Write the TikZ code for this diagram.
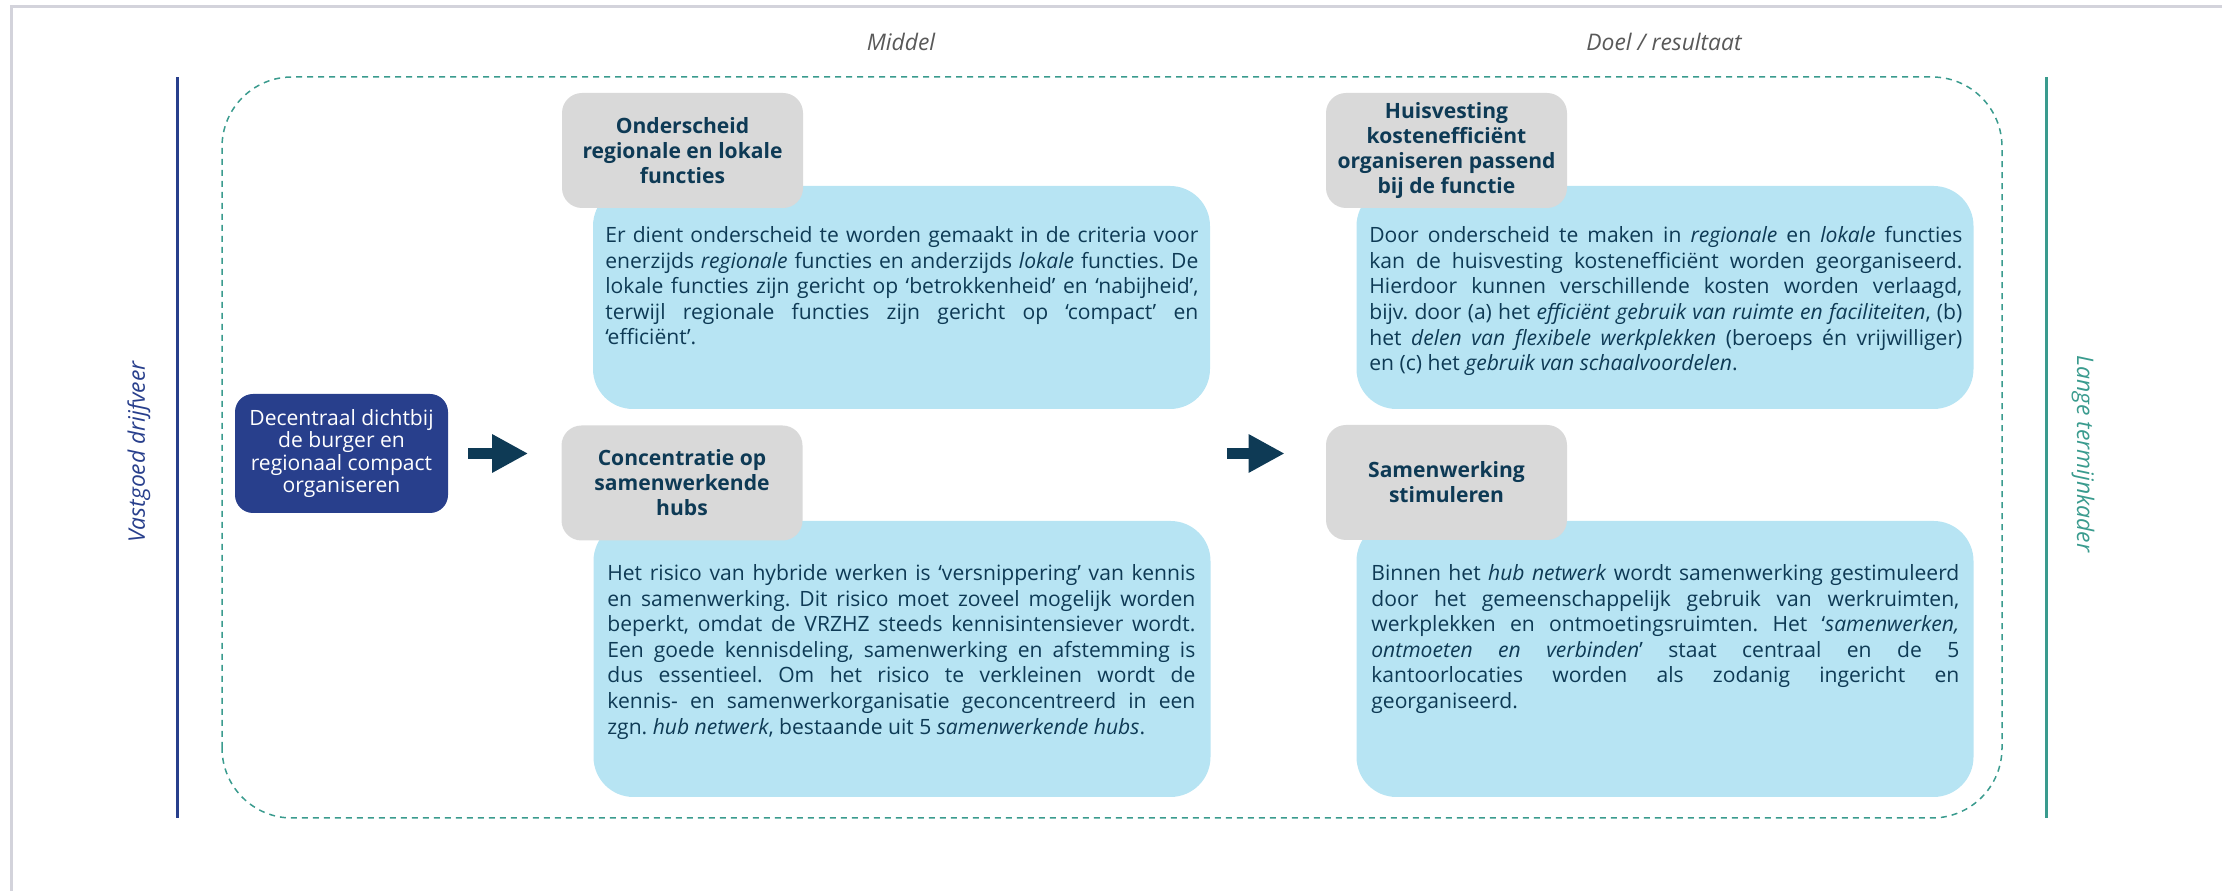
\documentclass[tikz,border=0pt]{standalone}
\usepackage{fontspec}
\setmainfont{Open Sans}
\usepackage{tikz}
\usetikzlibrary{arrows.meta, calc}
\definecolor{navy}{HTML}{0E3A55}
\definecolor{donkerblauw}{HTML}{283F8C}
\definecolor{groen}{HTML}{3A9B8E}
\definecolor{grijs}{HTML}{D9D9D9}
\definecolor{lichtblauw}{HTML}{B7E4F3}
\definecolor{randgrijs}{HTML}{D3D3DB}
\tikzset{
  kop/.style={rectangle, rounded corners=0.4cm, fill=grijs, text=navy, align=center,
    minimum width=4.82cm, minimum height=2.3cm, inner sep=0,
    font=\bfseries\fontsize{12}{14.2}\selectfont},
  tekstvak/.style={rectangle, rounded corners=0.8cm, fill=lichtblauw,
    minimum width=12.34cm, inner sep=0},
  uitleg/.style={anchor=north west, inner sep=0, text width=11.86cm, align=justify,
    text=navy, font=\fontsize{12}{14.6}\selectfont},
  startvak/.style={rectangle, rounded corners=0.36cm, fill=donkerblauw, text=white,
    align=center, minimum width=4.26cm, minimum height=2.38cm, inner sep=0,
    font=\fontsize{12}{12.7}\selectfont},
  kolom/.style={text=black!65, font=\itshape\fontsize{13}{15}\selectfont},
  pijl/.style={draw=navy, line width=0.22cm, -{Triangle[length=0.72cm, width=0.72cm]}}
}

\begin{document}
\frenchspacing
\begin{tikzpicture}
%\draw[help lines] (0,0) grid (44,17);
\useasboundingbox (0,0) rectangle (44.44,17.82);
\draw[randgrijs, line width=0.06cm] (0.22,0) -- (0.22,17.68) -- (44.44,17.68);

\draw[donkerblauw, line width=0.06cm] (3.54,1.46) -- (3.54,16.28);
\draw[groen, line width=0.06cm] (40.92,1.46) -- (40.92,16.28);
\draw[groen, line width=0.03cm, dash pattern=on 0.12cm off 0.1cm, rounded corners=1.4cm]
  (4.44,1.46) rectangle (40.04,16.28);

\path (18.02,16.99) node(middel) [kolom] {Middel}
(33.28,16.99) node(doel) [kolom] {Doel / resultaat}
(2.78,8.78) node(vastgoed) [kolom, text=donkerblauw, rotate=90] {Vastgoed drijfveer}
(41.66,8.74) node(termijn) [kolom, text=groen, rotate=-90] {Lange termijnkader};

\path (6.83,8.75) node(decentraal) [startvak] {Decentraal dichtbij\\de burger en\\regionaal compact\\organiseren};

% lichtblauwe vakken
\path (18.03,11.87) node(onderscheid_vak) [tekstvak, minimum height=4.46cm] {}
(18.04,4.64) node(hubs_vak) [tekstvak, minimum height=5.52cm] {}
(33.30,11.87) node(huisvesting_vak) [tekstvak, minimum height=4.46cm] {}
(33.30,4.64) node(samenwerking_vak) [tekstvak, minimum height=5.52cm] {};

\path (12.10,13.30) node(onderscheid_txt) [uitleg] {Er dient onderscheid te worden gemaakt in de criteria voor\linebreak
enerzijds \textit{regionale} functies en anderzijds \textit{lokale} functies. De\linebreak
lokale functies zijn gericht op ‘betrokkenheid’ en ‘nabijheid’,\linebreak
terwijl regionale functies zijn gericht op ‘compact’ en\linebreak
‘efficiënt’.}
(12.14,6.54) node(hubs_txt) [uitleg, text width=11.76cm] {Het risico van hybride werken is ‘versnippering’ van kennis\linebreak
en samenwerking. Dit risico moet zoveel mogelijk worden\linebreak
beperkt, omdat de VRZHZ steeds kennisintensiever wordt.\linebreak
Een goede kennisdeling, samenwerking en afstemming is\linebreak
dus essentieel. Om het risico te verkleinen wordt de\linebreak
kennis- en samenwerkorganisatie geconcentreerd in een\linebreak
zgn. \textit{hub netwerk}, bestaande uit 5 \textit{samenwerkende hubs}.}
(27.38,13.30) node(huisvesting_txt) [uitleg] {Door onderscheid te maken in \textit{regionale} en \textit{lokale} functies\linebreak
kan de huisvesting kostenefficiënt worden georganiseerd.\linebreak
Hierdoor kunnen verschillende kosten worden verlaagd,\linebreak
bijv. door (a) het \textit{efficiënt gebruik van ruimte en faciliteiten}, (b)\linebreak
het \textit{delen van flexibele werkplekken} (beroeps én vrijwilliger)\linebreak
en (c) het \textit{gebruik van schaalvoordelen}.}
(27.42,6.54) node(samenwerking_txt) [uitleg, text width=11.76cm] {Binnen het \textit{hub netwerk} wordt samenwerking gestimuleerd\linebreak
door het gemeenschappelijk gebruik van werkruimten,\linebreak
werkplekken en ontmoetingsruimten. Het ‘\textit{samenwerken,\linebreak
ontmoeten en verbinden}’ staat centraal en de 5\linebreak
kantoorlocaties worden als zodanig ingericht en\linebreak
georganiseerd.};

% grijze koppen
\path (13.65,14.81) node(onderscheid) [kop] {Onderscheid\\regionale en lokale\\functies}
(13.64,8.16) node(concentratie) [kop] {Concentratie op\\samenwerkende\\hubs}
(28.93,14.81) node(huisvesting) [kop] {Huisvesting\\kostenefficiënt\\organiseren passend\\bij de functie}
(28.93,8.17) node(samenwerking) [kop] {Samenwerking\\stimuleren};

\draw[pijl, shorten <=0.4cm, shorten >=0.66cm] (decentraal.east) -- (decentraal.east -| concentratie.west);
\draw[pijl, shorten <=0.32cm, shorten >=0.82cm] (hubs_vak.east |- decentraal.east) -- (decentraal.east -| samenwerking.west);
\end{tikzpicture}
\end{document}
